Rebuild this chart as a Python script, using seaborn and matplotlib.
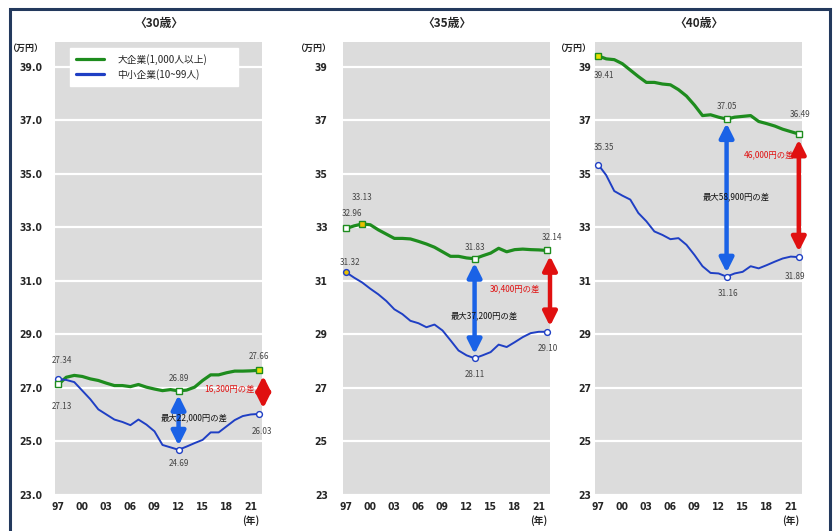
import matplotlib
matplotlib.use("Agg")
import matplotlib.pyplot as plt
from matplotlib.patches import Rectangle
import seaborn as sns
import pandas as pd

# ---- data (monthly scheduled wage, 10,000 yen) ----
years = list(range(1997, 2023))

large_30 = [27.13, 27.40, 27.47, 27.43, 27.34, 27.28, 27.18, 27.09, 27.09, 27.05,
            27.13, 27.03, 26.96, 26.90, 26.94, 26.89, 26.92, 27.03, 27.28, 27.49,
            27.49, 27.57, 27.63, 27.63, 27.64, 27.66]
small_30 = [27.34, 27.30, 27.22, 26.90, 26.58, 26.20, 26.01, 25.82, 25.73, 25.61,
            25.82, 25.63, 25.38, 24.87, 24.78, 24.69, 24.81, 24.94, 25.06, 25.34,
            25.34, 25.57, 25.80, 25.95, 26.01, 26.03]

large_35 = [32.96, 33.06, 33.13, 33.10, 32.91, 32.75, 32.59, 32.59, 32.57, 32.48,
            32.38, 32.26, 32.09, 31.92, 31.92, 31.86, 31.83, 31.94, 32.04, 32.22,
            32.09, 32.17, 32.19, 32.17, 32.16, 32.14]
small_35 = [31.32, 31.12, 30.94, 30.71, 30.50, 30.25, 29.94, 29.76, 29.51, 29.42,
            29.27, 29.37, 29.15, 28.78, 28.40, 28.22, 28.11, 28.22, 28.34, 28.62,
            28.53, 28.71, 28.90, 29.05, 29.10, 29.10]

large_40 = [39.41, 39.30, 39.27, 39.12, 38.88, 38.64, 38.42, 38.42, 38.36, 38.33,
            38.15, 37.91, 37.57, 37.18, 37.21, 37.12, 37.05, 37.12, 37.15, 37.18,
            36.96, 36.88, 36.79, 36.67, 36.58, 36.49]
small_40 = [35.35, 34.95, 34.36, 34.19, 34.04, 33.54, 33.23, 32.85, 32.72, 32.56,
            32.60, 32.35, 31.97, 31.55, 31.30, 31.28, 31.16, 31.28, 31.34, 31.55,
            31.47, 31.59, 31.72, 31.84, 31.91, 31.89]

panel_titles = ["〈30歳〉", "〈35歳〉", "〈40歳〉"]
series_names = ["大企業(1,000人以上)", "中小企業(10~99人)"]
xtick_years = [1997, 2000, 2003, 2006, 2009, 2012, 2015, 2018, 2021]
xtick_labels = ["97", "00", "03", "06", "09", "12", "15", "18", "21"]
yticks = [23, 25, 27, 29, 31, 33, 35, 37, 39]
unit_label = "（万円）"
year_label = "(年)"

# year of the widest gap in each panel
gap_years = [2012, 2013, 2013]
# labelled points: (series index, year, text offset in points, marker fill)
point_labels = [
    [(1, 1997, (3, 13), "white"), (0, 1997, (3, -16), "white"),
     (0, 2012, (0, 9), "white"), (1, 2012, (0, -10), "white"),
     (0, 2022, (0, 10), "#e8e000"), (1, 2022, (2, -13), "white")],
    [(0, 1997, (4, 11), "white"), (0, 1999, (0, 19), "#e8c000"),
     (1, 1997, (3, 7), "#e8c000"), (0, 2013, (0, 8), "white"),
     (0, 2022, (4, 9), "white"), (1, 2013, (0, -12), "white"),
     (1, 2022, (1, -12), "white")],
    [(0, 1997, (4, -14), "#e8e000"), (0, 2013, (0, 9), "white"),
     (0, 2022, (1, 14), "white"), (1, 1997, (4, 12), "white"),
     (1, 2013, (1, -12), "white"), (1, 2022, (-3, -14), "white")],
]
# gap-text anchors: widest gap (centre) and latest gap (right edge)
gap_text_pos = [((2013.9, 25.9), (2021.5, 26.96)),
                ((2014.2, 29.70), (2021.2, 30.70)),
                ((2014.2, 34.14), (2021.4, 35.72))]
red_arrow_x = [2022.55, 2022.4, 2022.0]
ytick_pad = [9, 11, 3]

panels = [(large_30, small_30), (large_35, small_35), (large_40, small_40)]

sns.set_theme(style="white")
plt.rcParams["font.family"] = ["Noto Sans CJK JP", "DejaVu Sans"]

GREEN = "#1e8c1e"
BLUE = "#1f3fc4"
ARROW_BLUE = "#1a62e6"
RED = "#e01010"

fig = plt.figure(figsize=(8.38, 5.31), dpi=100)
fig.patch.set_facecolor("white")

W, H = 838, 531
lefts = [55, 343, 595]
ax_w, top_px, bot_px = 207, 42, 495


def yen_gap(a, b):
    return f"{int(round((a - b) * 100)) * 100:,}円の差"


for i, (large, small) in enumerate(panels):
    ax = fig.add_axes([lefts[i] / W, 1 - bot_px / H, ax_w / W, (bot_px - top_px) / H])
    ax.set_facecolor("#dcdcdc")
    df = pd.DataFrame({"year": years, "large": large, "small": small})

    sns.lineplot(data=df, x="year", y="large", ax=ax, color=GREEN, lw=2.3,
                 label=series_names[0], zorder=3)
    sns.lineplot(data=df, x="year", y="small", ax=ax, color=BLUE, lw=1.4,
                 label=series_names[1], zorder=3)

    ax.set_xlim(1996.6, 2022.4)
    ax.set_ylim(23, 39.93)
    ax.set_yticks(yticks)
    if i == 0:
        ax.set_yticklabels([f"{v:.1f}" for v in yticks])
    else:
        ax.set_yticklabels([str(v) for v in yticks])
    ax.set_xticks(xtick_years)
    ax.set_xticklabels(xtick_labels)
    ax.tick_params(axis="both", length=0, labelsize=7.5)
    ax.tick_params(axis="y", pad=ytick_pad[i])
    ax.tick_params(axis="x", pad=5)
    for lab in ax.get_xticklabels() + ax.get_yticklabels():
        lab.set_fontweight("bold")
        lab.set_fontfamily(["DejaVu Sans"])
        lab.set_fontstretch("condensed")
    ax.grid(axis="y", color="white", lw=1.6)
    ax.grid(axis="x", visible=False)
    ax.set_axisbelow(True)
    for s in ax.spines.values():
        s.set_visible(False)
    ax.set_xlabel("")
    ax.set_ylabel("")

    ax.set_title(panel_titles[i], fontsize=8.5, fontweight="bold", pad=11)
    ax.text(-0.06 if i != 2 else -0.02, 0.985, unit_label, transform=ax.transAxes,
            ha="right", va="center", fontsize=6.5, fontweight="bold")
    ax.text(2021, 22.25, year_label, ha="center", va="top", fontsize=7,
            fontweight="bold", clip_on=False)

    # gap arrows
    gi = years.index(gap_years[i])
    ax.annotate("", xy=(gap_years[i], small[gi]), xytext=(gap_years[i], large[gi]),
                arrowprops=dict(arrowstyle="<|-|>,head_length=0.7,head_width=0.35",
                                color=ARROW_BLUE, lw=3.2, shrinkA=3, shrinkB=3),
                zorder=4)
    ax.annotate("", xy=(red_arrow_x[i], small[-1]), xytext=(red_arrow_x[i], large[-1]),
                arrowprops=dict(arrowstyle="<|-|>,head_length=0.7,head_width=0.35",
                                color=RED, lw=3.2, shrinkA=4, shrinkB=4),
                zorder=4, annotation_clip=False)

    (bx, by), (rx, ry) = gap_text_pos[i]
    ax.text(bx, by, "最大" + yen_gap(large[gi], small[gi]), ha="center", va="center",
            fontsize=6, color="#111111", zorder=5)
    ax.text(rx, ry, yen_gap(large[-1], small[-1]), ha="right", va="center",
            fontsize=6, color=RED, zorder=5)

    # labelled points
    for sidx, yr, off, fill in point_labels[i]:
        vals = large if sidx == 0 else small
        v = vals[years.index(yr)]
        ax.plot([yr], [v], marker="s" if sidx == 0 else "o", ms=4.2,
                mfc=fill, mec=GREEN if sidx == 0 else BLUE, mew=1.0,
                zorder=6, clip_on=False)
        ax.annotate(f"{v:.2f}", xy=(yr, v), xytext=off, textcoords="offset points",
                    ha="center", va="center", fontsize=5.8, color="#444444",
                    zorder=6, annotation_clip=False)

    if i == 0:
        leg = ax.legend(loc="upper left", bbox_to_anchor=(0.072, 0.874, 0.81, 0.113),
                        mode="expand", fontsize=7, frameon=True, fancybox=False,
                        handlelength=2.9, handletextpad=1.4, labelspacing=0.45,
                        borderpad=0.6, borderaxespad=0)
        leg.get_frame().set_facecolor("white")
        leg.get_frame().set_edgecolor("white")
        leg.get_frame().set_alpha(1)
        for line in leg.get_lines():
            line.set_linewidth(2.3)
    else:
        ax.get_legend().remove()

# outer frame
fig.add_artist(Rectangle((10 / W, -0.05), 820 / W, 1 - 9 / H + 0.05,
                         transform=fig.transFigure, fill=False,
                         edgecolor="#23395d", lw=2.2, zorder=10))

fig.savefig("out.png", dpi=100)
